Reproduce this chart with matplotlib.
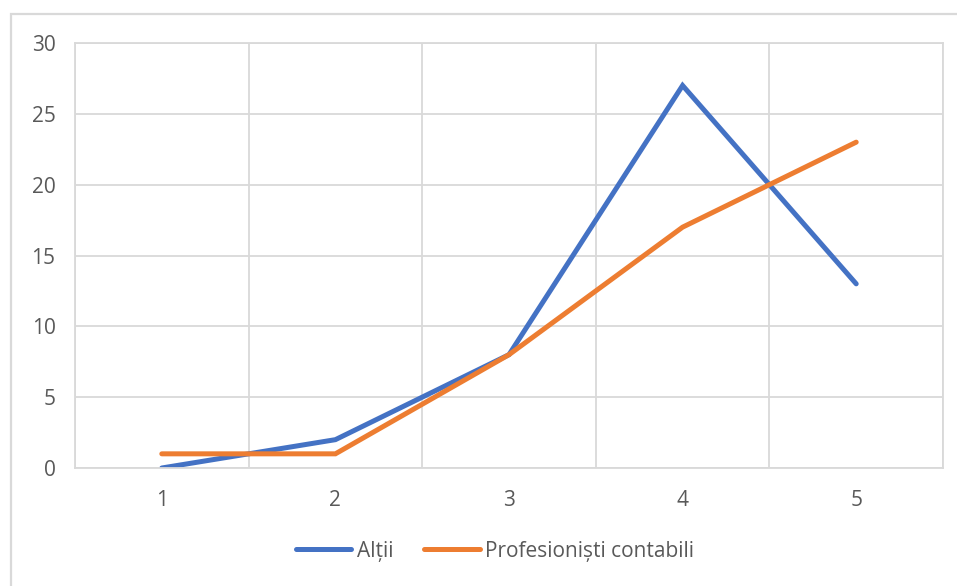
import matplotlib.pyplot as plt
import matplotlib.ticker as mticker
from matplotlib.patches import Rectangle

# Series values per category
categories = [1, 2, 3, 4, 5]
altii = [0, 2, 8, 27, 13]
profesionisti = [1, 1, 8, 17, 23]
series_labels = ["Alții", "Profesioniști contabili"]

BLUE = "#4472C4"
ORANGE = "#ED7D31"
GRID = "#d9d9d9"
TEXT = "#595959"
FS = 15

plt.rcParams["font.family"] = ["Open Sans", "DejaVu Sans"]

fig = plt.figure(figsize=(9.57, 5.86), dpi=100)
ax = fig.add_axes([75 / 957, 1 - 468 / 586, (943 - 75) / 957, (468 - 43) / 586])

# Chart-area frame (top and left edges visible)
fig.patches.append(Rectangle((11 / 957, -0.1), 2.0, (586 - 14) / 586 + 0.1,
                             transform=fig.transFigure, fill=False,
                             edgecolor=GRID, linewidth=1.6, zorder=0))

ax.plot(categories, altii, color=BLUE, linewidth=3.6,
        solid_capstyle="round", solid_joinstyle="miter", label=series_labels[0])
ax.plot(categories, profesionisti, color=ORANGE, linewidth=3.6,
        solid_capstyle="round", solid_joinstyle="miter", label=series_labels[1])

ax.set_xlim(0.5, 5.5)
ax.set_ylim(0, 30)
ax.set_xticks(categories)
ax.xaxis.set_minor_locator(mticker.FixedLocator([0.5 + i for i in range(6)]))
ax.yaxis.set_major_locator(mticker.MultipleLocator(5))

ax.grid(True, which="major", axis="y", color=GRID, linewidth=1.3)
ax.grid(True, which="minor", axis="x", color=GRID, linewidth=1.3)
ax.set_axisbelow(True)

for side in ax.spines:
    ax.spines[side].set_color(GRID)
    ax.spines[side].set_linewidth(1.3)

ax.tick_params(axis="both", which="both", length=0, labelsize=FS, colors=TEXT)
ax.tick_params(axis="y", pad=14)
ax.tick_params(axis="x", pad=16)

leg = fig.legend(loc="center", bbox_to_anchor=(495 / 957, 1 - 551 / 586),
                 ncol=2, frameon=False, fontsize=FS, labelcolor=TEXT,
                 handlelength=2.65, handletextpad=0.25, columnspacing=1.5)
for line in leg.get_lines():
    line.set_linewidth(3.6)
    line.set_solid_capstyle("round")

fig.savefig("out.png", dpi=100)
